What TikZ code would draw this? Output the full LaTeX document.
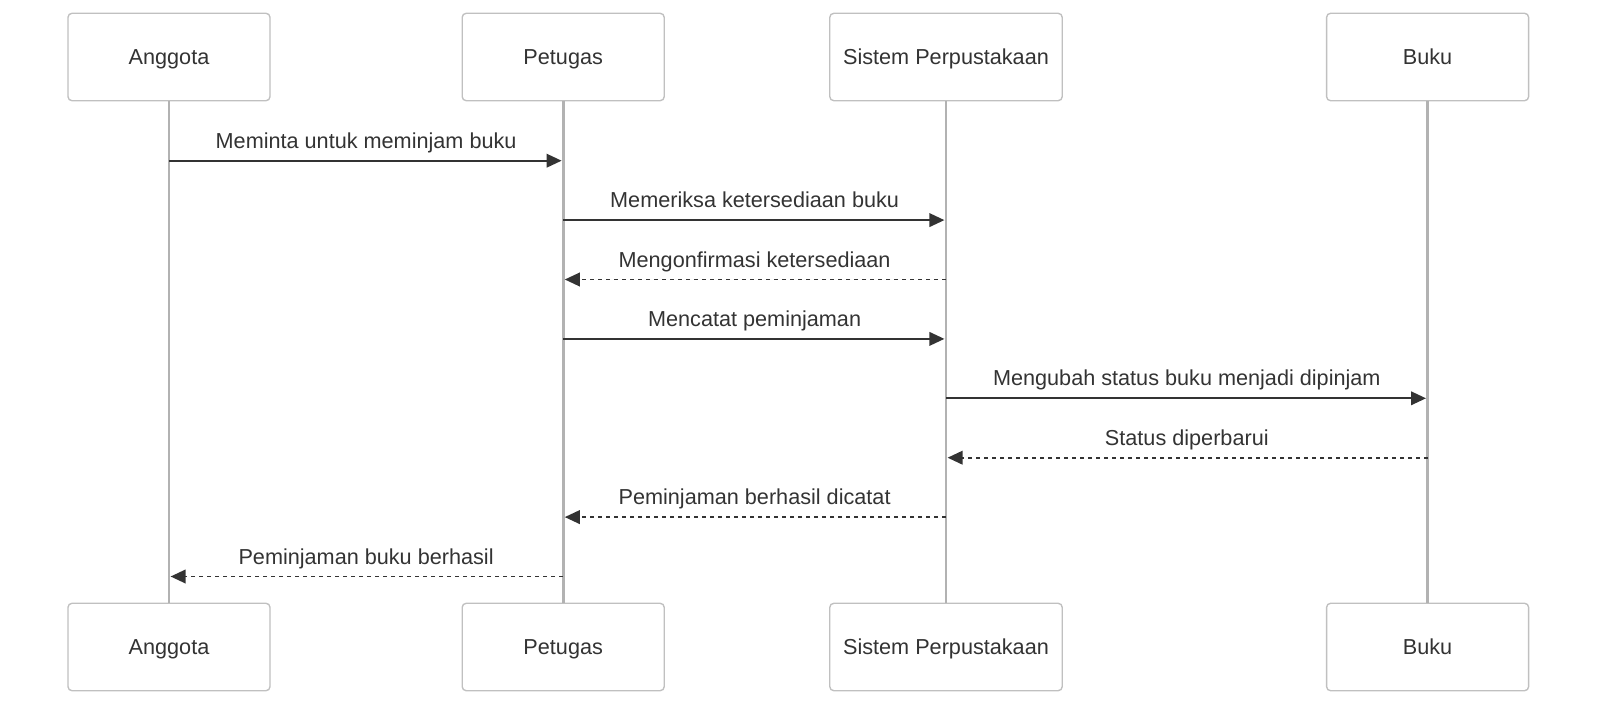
\documentclass[tikz,border=0pt]{standalone}
\usepackage{fontspec}
\setmainfont{Liberation Sans}
\usetikzlibrary{arrows.meta}
\definecolor{actorgray}{RGB}{192,192,192}
\definecolor{lifegray}{RGB}{178,178,178}
\definecolor{signalgray}{RGB}{51,51,51}
\tikzset{
	actor/.style={draw=actorgray, line width=0.034cm, fill=white, rounded corners=0.1cm,
		minimum width=5.05cm, minimum height=2.185cm, inner sep=0pt, text=signalgray,
		text height=1.2em, text depth=0.12em,
		font=\fontsize{15.4}{18}\selectfont},
	lifeline/.style={draw=lifegray, line width=0.068cm},
	msg/.style={draw=signalgray, line width=0.045cm, shorten >=0.04cm,
		-{Triangle[length=0.375cm, width=0.34cm]}},
	reply/.style={msg, dash pattern=on 0.1cm off 0.1cm},
	msglabel/.style={anchor=base, text=signalgray, yshift=0.3125cm,
		font=\fontsize{15.4}{18}\selectfont}
}

\begin{document}
\begin{tikzpicture}
		\useasboundingbox (0, 0) rectangle (40, -17.7);
		
		%%%%% ACTORS %%%%%
		
		\node[actor] (anggota) at (4.225, -1.425) {Anggota};
		\node[actor] (petugas) at (14.08, -1.425) {Petugas};
		\node[actor, minimum width=5.81cm] (sistem) at (23.65, -1.425) {Sistem Perpustakaan};
		\node[actor] (buku) at (35.69, -1.425) {Buku};
		
		\node[actor] (anggotaB) at (4.225, -16.175) {Anggota};
		\node[actor] (petugasB) at (14.08, -16.175) {Petugas};
		\node[actor, minimum width=5.81cm] (sistemB) at (23.65, -16.175) {Sistem Perpustakaan};
		\node[actor] (bukuB) at (35.69, -16.175) {Buku};
		
		%%%%% LIFELINES %%%%%
		
		\draw[lifeline] (anggota.south) -- (anggotaB.north);
		\draw[lifeline] (petugas.south) -- (petugasB.north);
		\draw[lifeline] (sistem.south) -- (sistemB.north);
		\draw[lifeline] (buku.south) -- (bukuB.north);
		
		%%%%% MESSAGES %%%%%
		
		\draw[msg] (anggota |- 0, -4.0175) -- (petugas |- 0, -4.0175)
			node[msglabel, midway] (m1) {Meminta untuk meminjam buku};
		\draw[msg] (petugas |- 0, -5.5025) -- (sistem |- 0, -5.5025)
			node[msglabel, midway] (m2) {Memeriksa ketersediaan buku};
		\draw[reply] (sistem |- 0, -6.9875) -- (petugas |- 0, -6.9875)
			node[msglabel, midway] (m3) {Mengonfirmasi ketersediaan};
		\draw[msg] (petugas |- 0, -8.4725) -- (sistem |- 0, -8.4725)
			node[msglabel, midway] (m4) {Mencatat peminjaman};
		\draw[msg] (sistem |- 0, -9.9575) -- (buku |- 0, -9.9575)
			node[msglabel, midway] (m5) {Mengubah status buku menjadi dipinjam};
		\draw[reply] (buku |- 0, -11.4425) -- (sistem |- 0, -11.4425)
			node[msglabel, midway] (m6) {Status diperbarui};
		\draw[reply] (sistem |- 0, -12.9275) -- (petugas |- 0, -12.9275)
			node[msglabel, midway] (m7) {Peminjaman berhasil dicatat};
		\draw[reply] (petugas |- 0, -14.4125) -- (anggota |- 0, -14.4125)
			node[msglabel, midway] (m8) {Peminjaman buku berhasil};
		
		%%%%% END %%%%%
\end{tikzpicture}
\end{document}
